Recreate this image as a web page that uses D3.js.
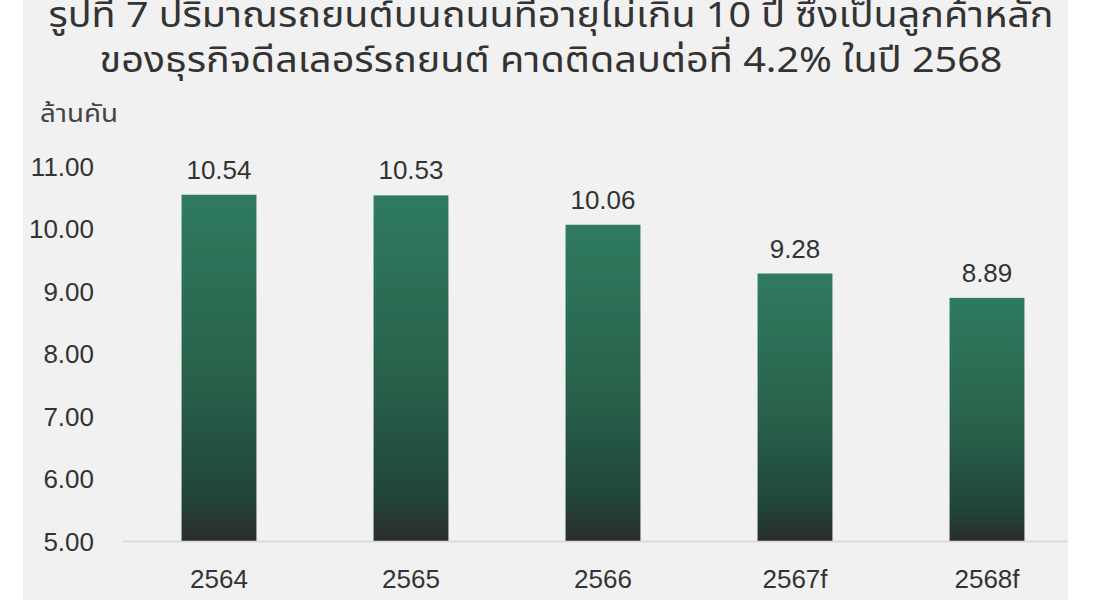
<!DOCTYPE html>
<html><head><meta charset="utf-8">
<script src="https://cdn.jsdelivr.net/npm/d3@7"></script>
<style>
html,body{margin:0;padding:0;background:#fff;}
svg{display:block;font-family:"Noto Sans","Noto Sans Thai","DejaVu Sans",sans-serif;}
.num{font-family:"Liberation Sans",Arial,sans-serif;}
</style></head>
<body>
<svg id="c" width="1095" height="600"></svg>
<script>
const categories = ["2564","2565","2566","2567f","2568f"];
const values = [10.54,10.53,10.06,9.28,8.89];
const yTicks = [5,6,7,8,9,10,11];
const titleLines = ["รูปที่ 7 ปริมาณรถยนต์บนถนนที่อายุไม่เกิน 10 ปี ซึ่งเป็นลูกค้าหลัก",
                    "ของธุรกิจดีลเลอร์รถยนต์ คาดติดลบต่อที่ 4.2% ในปี 2568"];
const unitLabel = "ล้านคัน";

const svg = d3.select("#c");
svg.append("rect").attr("x",23).attr("y",0).attr("width",1045).attr("height",600).attr("fill","#f1f1f1");

const defs = svg.append("defs");
const g = defs.append("linearGradient").attr("id","bg").attr("x1",0).attr("y1",0).attr("x2",0).attr("y2",1);
g.append("stop").attr("offset","0%").attr("stop-color","#2f7b5f");
g.append("stop").attr("offset","55%").attr("stop-color","#28604a");
g.append("stop").attr("offset","85%").attr("stop-color","#21473a");
g.append("stop").attr("offset","100%").attr("stop-color","#2a2d2b");

const x = d3.scaleBand().domain(categories).range([123,1083]).paddingInner(0.61).paddingOuter(0.305);
const y = d3.scaleLinear().domain([5,11]).range([541,166]);

// title
const titleW = [1005, 903];
svg.append("g").selectAll("text").data(titleLines).join("text")
  .attr("x",551).attr("y",(d,i)=>27+i*45).attr("text-anchor","middle")
  .attr("font-size",35).attr("fill","#333")
  .attr("textLength",(d,i)=>titleW[i]).attr("lengthAdjust","spacingAndGlyphs")
  .text(d=>d);

svg.append("text").attr("x",40).attr("y",122).attr("font-size",24).attr("fill","#444")
  .attr("textLength",78).attr("lengthAdjust","spacingAndGlyphs").text(unitLabel);

// y axis
const yAxis = d3.axisLeft(y).tickValues(yTicks).tickFormat(d3.format(".2f")).tickSize(0).tickPadding(0);
const ya = svg.append("g").attr("transform","translate(94,0)").call(yAxis);
ya.select(".domain").remove();
ya.selectAll("text").attr("class","num").attr("font-size",26).attr("fill","#333")
  .attr("font-family",null).attr("dy",null).attr("y",9);

// bars
svg.append("g").selectAll("rect").data(values).join("rect")
  .attr("x",(d,i)=>x(categories[i])).attr("y",d=>y(d))
  .attr("width",x.bandwidth()).attr("height",d=>y(5)-y(d))
  .attr("fill","url(#bg)");

// baseline
svg.append("line").attr("x1",123).attr("x2",1068).attr("y1",y(5)+0.5).attr("y2",y(5)+0.5)
  .attr("stroke","#d6d6d6").attr("stroke-width",1.5);

// value labels
svg.append("g").selectAll("text").data(values).join("text")
  .attr("class","num")
  .attr("x",(d,i)=>x(categories[i])+x.bandwidth()/2).attr("y",d=>y(d)-16)
  .attr("text-anchor","middle").attr("font-size",26).attr("fill","#333")
  .text(d=>d3.format(".2f")(d));

// x axis
const xAxis = d3.axisBottom(x).tickSize(0).tickPadding(0);
const xa = svg.append("g").attr("transform","translate(0,588)").call(xAxis);
xa.select(".domain").remove();
xa.selectAll("text").attr("class","num").attr("font-size",26).attr("fill","#333")
  .attr("font-family",null).attr("dy",null).attr("y",0);
</script>
</body></html>
